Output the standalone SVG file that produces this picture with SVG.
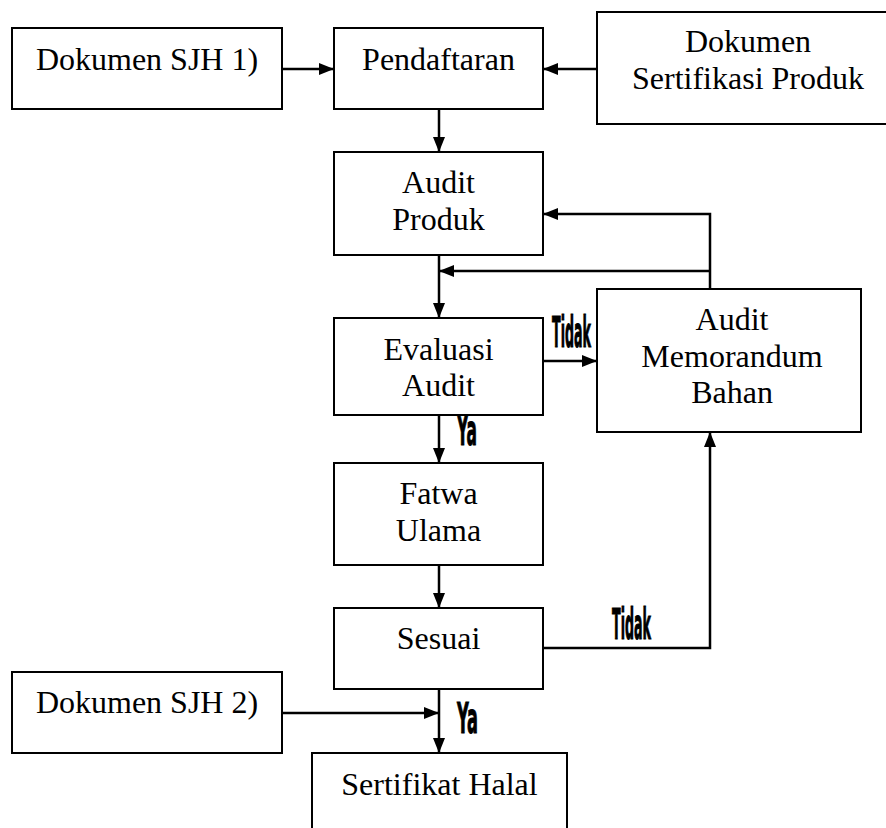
<svg xmlns="http://www.w3.org/2000/svg" width="886" height="828" viewBox="0 0 886 828">
<defs>
<marker id="ah" markerUnits="userSpaceOnUse" markerWidth="16" markerHeight="13" refX="15" refY="6" orient="auto">
<path d="M0,0 L15,6 L0,12 z" fill="#000"/>
</marker>
<style>
.box{fill:#fff;stroke:#000;stroke-width:2}
.t{font-family:"Liberation Serif","Times New Roman",serif;font-size:32px;fill:#000;text-anchor:middle}
.c{fill:none;stroke:#000;stroke-width:2.5}
.a{marker-end:url(#ah)}
.lbl{font-family:"DejaVu Sans Condensed","DejaVu Sans",sans-serif;font-weight:bold;font-size:42px;fill:#000;stroke:#000;stroke-width:1}
</style>
</defs>
<rect width="886" height="828" fill="#fff"/>
<g id="connectors">
<line class="c a" x1="282" y1="69" x2="334" y2="69"/>
<line class="c a" x1="597" y1="69" x2="543" y2="69"/>
<line class="c a" x1="439" y1="109" x2="439" y2="152"/>
<line class="c a" x1="439" y1="255" x2="439" y2="318"/>
<path class="c a" d="M710,289 V214 H543"/>
<path class="c a" d="M710,271 H439"/>
<line class="c a" x1="543" y1="361" x2="597" y2="361"/>
<line class="c a" x1="439" y1="415" x2="439" y2="463"/>
<line class="c a" x1="439" y1="565" x2="439" y2="608"/>
<path class="c a" d="M543,648 H710 V432"/>
<line class="c a" x1="439" y1="689" x2="439" y2="753"/>
<line class="c a" x1="282" y1="713" x2="439" y2="713"/>
<text class="lbl" x="552" y="347" textLength="39" lengthAdjust="spacingAndGlyphs">Tidak</text>
<text class="lbl" x="612" y="639" textLength="39" lengthAdjust="spacingAndGlyphs">Tidak</text>
<text class="lbl" x="457" y="445" textLength="20" lengthAdjust="spacingAndGlyphs">Ya</text>
<text class="lbl" x="457" y="733" textLength="21" lengthAdjust="spacingAndGlyphs">Ya</text>
</g>
<g id="n1"><rect class="box" x="12" y="28" width="270" height="81"/><text class="t" x="147" y="70">Dokumen SJH 1)</text></g>
<g id="n2"><rect class="box" x="334" y="28" width="209" height="81"/><text class="t" x="438.5" y="70">Pendaftaran</text></g>
<g id="n3"><rect class="box" x="597" y="12" width="300" height="112"/><text class="t" x="748" y="52">Dokumen</text><text class="t" x="748" y="89">Sertifikasi Produk</text></g>
<g id="n4"><rect class="box" x="334" y="152" width="209" height="103"/><text class="t" x="438.5" y="193">Audit</text><text class="t" x="438.5" y="230">Produk</text></g>
<g id="n5"><rect class="box" x="334" y="318" width="209" height="97"/><text class="t" x="438.5" y="360">Evaluasi</text><text class="t" x="438.5" y="396">Audit</text></g>
<g id="n6"><rect class="box" x="597" y="289" width="264" height="143"/><text class="t" x="732" y="330">Audit</text><text class="t" x="732" y="367">Memorandum</text><text class="t" x="732" y="403">Bahan</text></g>
<g id="n7"><rect class="box" x="334" y="463" width="209" height="102"/><text class="t" x="438.5" y="504">Fatwa</text><text class="t" x="438.5" y="541">Ulama</text></g>
<g id="n8"><rect class="box" x="334" y="608" width="209" height="81"/><text class="t" x="438.5" y="649">Sesuai</text></g>
<g id="n9"><rect class="box" x="12" y="672" width="270" height="81"/><text class="t" x="147" y="713">Dokumen SJH 2)</text></g>
<g id="n10"><rect class="box" x="312" y="753" width="255" height="100"/><text class="t" x="439.5" y="795">Sertifikat Halal</text></g>
</svg>
